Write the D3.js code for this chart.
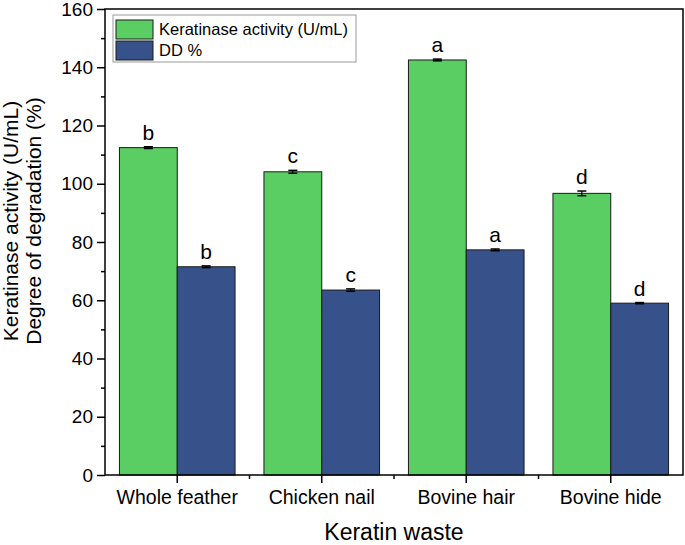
<!DOCTYPE html>
<html>
<head>
<meta charset="utf-8">
<script src="https://cdn.jsdelivr.net/npm/d3@7"></script>
<style>
body{margin:0;background:#fff;}
text{font-family:"Liberation Sans",Arial,sans-serif;fill:#000;}
</style>
</head>
<body>
<svg id="chart" width="685" height="545"></svg>
<script>
const categories = ["Whole feather", "Chicken nail", "Bovine hair", "Bovine hide"];
const seriesNames = ["Keratinase activity (U/mL)", "DD %"];
const keratinase = [112.4, 104.1, 142.5, 96.7];
const keratinaseErr = [0.3, 0.5, 0.3, 0.8];
const keratinaseLetters = ["b", "c", "a", "d"];
const dd = [71.5, 63.5, 77.3, 59.0];
const ddErr = [0.3, 0.4, 0.3, 0.2];
const ddLetters = ["b", "c", "a", "d"];
const yTicks = [0, 20, 40, 60, 80, 100, 120, 140, 160];
const colors = ["#5ACE62", "#37528A"];

const svg = d3.select("#chart");
const L = 105, R = 683, T = 9, B = 475;

const x0 = d3.scaleBand().domain(categories).range([L, R]).padding(0);
const x1 = d3.scaleBand().domain(seriesNames).range([x0.bandwidth()*0.1, x0.bandwidth()*0.9]).padding(0);
const y = d3.scaleLinear().domain([0, 160]).range([B, T]);

const series = [
  {name: seriesNames[0], vals: keratinase, err: keratinaseErr, letters: keratinaseLetters, color: colors[0]},
  {name: seriesNames[1], vals: dd, err: ddErr, letters: ddLetters, color: colors[1]}
];

// bars
series.forEach(s => {
  const g = svg.append("g");
  categories.forEach((c, i) => {
    const bx = x0(c) + x1(s.name);
    g.append("rect")
      .attr("x", bx).attr("y", y(s.vals[i]))
      .attr("width", x1.bandwidth()).attr("height", y(0) - y(s.vals[i]))
      .attr("fill", s.color).attr("stroke", "#1a1a1a").attr("stroke-width", 1);
    const cx = bx + x1.bandwidth()/2;
    const top = y(s.vals[i] + s.err[i]), bot = y(s.vals[i] - s.err[i]);
    g.append("line").attr("x1", cx).attr("x2", cx).attr("y1", top).attr("y2", bot)
      .attr("stroke", "#000").attr("stroke-width", 1.2);
    [top, bot].forEach(yy => g.append("line").attr("x1", cx-4.5).attr("x2", cx+4.5)
      .attr("y1", yy).attr("y2", yy).attr("stroke", "#000").attr("stroke-width", 1.5));
    g.append("text").attr("x", cx).attr("y", top - 7)
      .attr("text-anchor", "middle").attr("font-size", "21px").text(s.letters[i]);
  });
});

// y axis
const yAxis = d3.axisLeft(y).tickValues(yTicks).tickSize(8).tickPadding(4);
const gy = svg.append("g").attr("transform", `translate(${L},0)`).call(yAxis);
gy.selectAll("text").attr("font-size", "19px").style("font-family", "Liberation Sans, Arial, sans-serif");
gy.selectAll("line,path").attr("stroke", "#000").attr("stroke-width", 1.5);
gy.select(".domain").remove();
const yMinor = d3.axisLeft(y).tickValues(d3.range(10, 160, 20)).tickSize(4).tickFormat("");
const gym = svg.append("g").attr("transform", `translate(${L},0)`).call(yMinor);
gym.select(".domain").remove();
gym.selectAll("line").attr("stroke", "#000").attr("stroke-width", 1.5);

// x axis
const xAxis = d3.axisBottom(x0).tickSize(8).tickPadding(7);
const gx = svg.append("g").attr("transform", `translate(0,${B})`).call(xAxis);
gx.select(".domain").remove();
gx.selectAll("line").attr("stroke", "#000").attr("stroke-width", 1.5);
gx.selectAll("text").attr("font-size", "19.5px").style("font-family", "Liberation Sans, Arial, sans-serif");
const bounds = categories.map(c => x0(c)).slice(1);
svg.append("g").selectAll("line").data(bounds).join("line")
  .attr("x1", d => d).attr("x2", d => d).attr("y1", B).attr("y2", B+4)
  .attr("stroke", "#000").attr("stroke-width", 1.5);

// frame
svg.append("rect").attr("x", L).attr("y", T).attr("width", R-L).attr("height", B-T)
  .attr("fill", "none").attr("stroke", "#000").attr("stroke-width", 1.5);

// axis titles
svg.append("text").attr("x", (L+R)/2).attr("y", 540).attr("text-anchor", "middle")
  .attr("font-size", "23px").text("Keratin waste");
const yt = svg.append("text").attr("transform", "translate(18,221) rotate(-90)")
  .attr("text-anchor", "middle").attr("font-size", "21px");
yt.append("tspan").attr("x", 0).attr("y", 0).text("Keratinase activity (U/mL)");
yt.append("tspan").attr("x", 0).attr("y", 23).text("Degree of degradation (%)");

// legend
const lg = svg.append("g");
lg.append("rect").attr("x", 113).attr("y", 15).attr("width", 243).attr("height", 47)
  .attr("fill", "#fff").attr("stroke", "#999").attr("stroke-width", 1);
series.forEach((s, i) => {
  lg.append("rect").attr("x", 116).attr("y", 20 + i*21).attr("width", 37).attr("height", 19)
    .attr("fill", s.color).attr("stroke", "#1a1a1a").attr("stroke-width", 1);
  lg.append("text").attr("x", 159).attr("y", 35 + i*21).attr("font-size", "16.5px").text(s.name);
});
</script>
</body>
</html>
